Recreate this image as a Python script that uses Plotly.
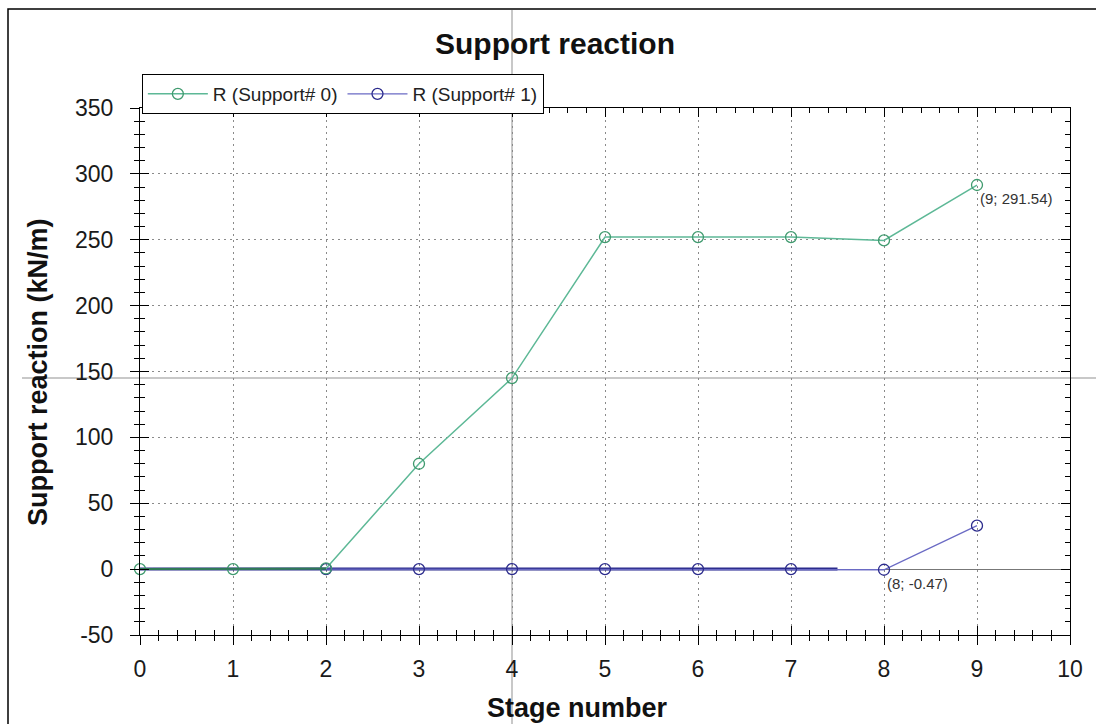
import plotly.graph_objects as go

stages = [0, 1, 2, 3, 4, 5, 6, 7, 8, 9]
r_support0 = [0, 0, 0.5, 80, 145, 252, 252, 252, 249.5, 291.54]
r_support1 = [0, 0, 0, 0, 0, 0, 0, 0, -0.47, 33]
s1_flat_x = [0, 7.5]
s1_flat_y = [0, 0]
x_ticks = [0, 1, 2, 3, 4, 5, 6, 7, 8, 9, 10]
y_ticks = [-50, 0, 50, 100, 150, 200, 250, 300, 350]
y_tick_text = ["-50", "0", "50", "100", "150", "200", "250", "300", "350"]
cursor_x, cursor_y = 4, 145

GREEN = "#5db896"
NAVY = "#2b2b8c"
PURPLE = "#6a6ac4"
FONT = "Liberation Sans, Arial, sans-serif"

fig = go.Figure()

fig.add_trace(go.Scatter(x=s1_flat_x, y=s1_flat_y, mode="lines",
                         line=dict(color=NAVY, width=3), showlegend=False,
                         hoverinfo="skip", cliponaxis=False))
fig.add_trace(go.Scatter(x=stages[2:], y=r_support1[2:], mode="lines+markers",
                         name="R (Support# 1)",
                         line=dict(color=PURPLE, width=1.3),
                         marker=dict(symbol="circle-open", size=11, color=NAVY,
                                     line=dict(width=1.3, color=NAVY)),
                         cliponaxis=False))
fig.add_trace(go.Scatter(x=stages, y=r_support0, mode="lines+markers",
                         name="R (Support# 0)",
                         line=dict(color=GREEN, width=1.5),
                         marker=dict(symbol="circle-open", size=11, color="#3f9a6e",
                                     line=dict(width=1.3, color="#3f9a6e")),
                         cliponaxis=False))
fig.add_trace(go.Scatter(x=stages[:3], y=r_support0[:3], mode="lines",
                         line=dict(color="#2f7a55", width=2), showlegend=False,
                         hoverinfo="skip", cliponaxis=False))

fig.add_trace(go.Scatter(x=[0], y=[0], xaxis="x2", yaxis="y2", mode="markers",
                         marker=dict(opacity=0), showlegend=False, hoverinfo="skip"))

axis_common = dict(showline=True, linecolor="black", linewidth=1, mirror="allticks",
                   ticks="inside", ticklen=9, tickcolor="black", tickwidth=1,
                   showgrid=True, gridcolor="#8a8a8a", griddash="2px,4px", gridwidth=1,
                   tickfont=dict(family=FONT, size=23, color="#1a1a1a"))

fig.update_layout(
    width=1096, height=724,
    margin=dict(l=140, r=26, t=108, b=89),
    paper_bgcolor="white", plot_bgcolor="white",
    title=dict(text="<b>Support reaction</b>", x=555 / 1096, xanchor="center",
               y=1 - 43 / 724, yanchor="middle",
               font=dict(family=FONT, size=30, color="#111")),
    xaxis=dict(range=[0, 10], tickvals=x_ticks, zeroline=False,
               minor=dict(dtick=0.2, ticks="inside", ticklen=5, tickcolor="black", showgrid=False),
               ticklabelstandoff=13,
               **axis_common),
    yaxis=dict(range=[-50, 350], tickvals=y_ticks, ticktext=y_tick_text,
               zeroline=True, zerolinecolor="#777", zerolinewidth=1,
               minor=dict(dtick=10, ticks="inside", ticklen=5, tickcolor="black", showgrid=False),
               ticklabelstandoff=21,
               **axis_common),
    xaxis2=dict(overlaying="x", matches="x", side="bottom", anchor="y2",
                showticklabels=False, showgrid=False, showline=False, zeroline=False,
                tickvals=x_ticks, ticks="outside", ticklen=9, tickcolor="black",
                minor=dict(dtick=0.2, ticks="outside", ticklen=5, tickcolor="black")),
    yaxis2=dict(overlaying="y", matches="y", side="left", anchor="x2",
                showticklabels=False, showgrid=False, showline=False, zeroline=False,
                tickvals=y_ticks, ticks="outside", ticklen=9, tickcolor="black",
                minor=dict(dtick=10, ticks="outside", ticklen=5, tickcolor="black")),
    legend=dict(orientation="h", x=0.002, y=(635 - 74) / 527, xanchor="left", yanchor="top",
                bordercolor="black", borderwidth=1, bgcolor="white",
                font=dict(family=FONT, size=19, color="#222"),
                traceorder="reversed", itemwidth=60, tracegroupgap=0),
    showlegend=True,
)

fig.add_annotation(text="<b>Stage number</b>", xref="paper", yref="paper",
                   x=(577 - 140) / 930, y=(635 - 708) / 527, showarrow=False,
                   xanchor="center", yanchor="middle",
                   font=dict(family=FONT, size=27, color="#111"))
fig.add_annotation(text="<b>Support reaction (kN/m)</b>", xref="paper", yref="paper",
                   x=(38 - 140) / 930, y=(635 - 372) / 527, showarrow=False, textangle=-90,
                   xanchor="center", yanchor="middle",
                   font=dict(family=FONT, size=27, color="#111"))

fig.add_shape(type="line", xref="x", yref="paper", x0=cursor_x, x1=cursor_x,
              y0=-0.2, y1=(635 - 10) / 527, line=dict(color="#c8c8c8", width=2), layer="below")
fig.add_shape(type="line", xref="paper", yref="y", x0=(22 - 140) / 930, x1=1.05,
              y0=cursor_y, y1=cursor_y, line=dict(color="#c8c8c8", width=2), layer="below")
fig.add_shape(type="rect", xref="paper", yref="paper",
              x0=(8 - 140) / 930, x1=(1110 - 140) / 930, y0=-0.3, y1=(635 - 9) / 527,
              line=dict(color="black", width=1.5), layer="above")

fig.add_annotation(x=stages[9], y=r_support0[9], text="(9; 291.54)", showarrow=False,
                   xanchor="left", yanchor="top", xshift=1, yshift=-3,
                   font=dict(family=FONT, size=15, color="#333"))
fig.add_annotation(x=stages[8], y=r_support1[8], text="(8; -0.47)", showarrow=False,
                   xanchor="left", yanchor="top", xshift=1, yshift=-3,
                   font=dict(family=FONT, size=15, color="#333"))

fig.write_html("out.html")
